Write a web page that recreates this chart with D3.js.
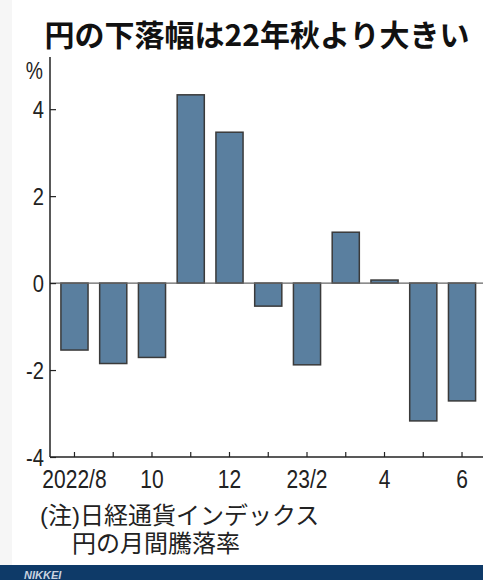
<!DOCTYPE html>
<html>
<head>
<meta charset="utf-8">
<script src="https://cdn.jsdelivr.net/npm/d3@7"></script>
<style>
  html, body { margin: 0; padding: 0; background: #fff; }
  svg { display: block; }
</style>
</head>
<body>
<script>
// Monthly change of the yen in the Nikkei currency index (%)
const months = ["2022/8", "9", "10", "11", "12", "23/1", "2", "3", "4", "5", "6"];
const changes = [-1.54, -1.85, -1.71, 4.33, 3.47, -0.53, -1.88, 1.17, 0.07, -3.17, -2.71];
const shownLabels = ["2022/8", "10", "12", "23/2", "4", "6"];
const yTicks = [-4, -2, 0, 2, 4];

const title = "円の下落幅は22年秋より大きい";
const noteLines = ["(注)日経通貨インデックス", "円の月間騰落率"];
const unitLabel = "%";
const brand = "NIKKEI";

const W = 483, H = 580;
const numFont = "'Liberation Sans', Arial, sans-serif";
const jpFont = "'Noto Sans CJK JP', 'Noto Sans', sans-serif";
const noteFont = "'Liberation Sans', 'Noto Sans CJK JP', sans-serif";
const narrow = 0.84; // horizontal squeeze for the condensed numerals

const svg = d3.select("body").append("svg")
  .attr("width", W).attr("height", H);

svg.append("rect").attr("width", W).attr("height", H).attr("fill", "#fff");
svg.append("rect").attr("x", 0).attr("y", 0).attr("width", 12).attr("height", 565).attr("fill", "#f6f6f6");

// Title
svg.append("text")
  .attr("x", 257).attr("y", 46)
  .attr("text-anchor", "middle")
  .attr("font-family", jpFont)
  .attr("font-weight", 700)
  .attr("font-size", 30)
  .attr("fill", "#111")
  .text(title);

// Scales
const y = d3.scaleLinear().domain([-4, 5.2]).range([457, 57]);
const x = d3.scaleBand().domain(months).range([55.1, 481.4]).paddingInner(0.3).paddingOuter(0.15);
const axisX = 50;

// Bars
svg.append("g").selectAll("rect")
  .data(months.map((m, i) => ({ m, v: changes[i] })))
  .join("rect")
  .attr("x", d => x(d.m))
  .attr("width", x.bandwidth())
  .attr("y", d => y(Math.max(0, d.v)))
  .attr("height", d => Math.abs(y(d.v) - y(0)))
  .attr("fill", "#5a7f9f")
  .attr("stroke", "#3a3a3a")
  .attr("stroke-width", 1.5);

// Zero line
svg.append("line")
  .attr("x1", axisX).attr("x2", W)
  .attr("y1", y(0)).attr("y2", y(0))
  .attr("stroke", "#666").attr("stroke-width", 1.3);

// Y axis: ticks pointing right, labels to the left
const yAxis = d3.axisRight(y).tickValues(yTicks).tickSize(6).tickFormat(d => d);
const yg = svg.append("g").attr("transform", `translate(${axisX},0)`).call(yAxis);
yg.select(".domain").remove();
yg.selectAll(".tick line").attr("stroke", "#222").attr("stroke-width", 1.2);
yg.selectAll(".tick text")
  .attr("x", null).attr("dy", "0.35em")
  .attr("transform", `translate(-6,0) scale(${narrow},1)`)
  .attr("text-anchor", "end")
  .attr("font-family", numFont).attr("font-size", 24).attr("fill", "#222");
svg.append("line")
  .attr("x1", axisX).attr("x2", axisX)
  .attr("y1", 57).attr("y2", y(-4))
  .attr("stroke", "#222").attr("stroke-width", 1.5);

svg.append("text")
  .attr("transform", `translate(43,79) scale(${narrow},1)`)
  .attr("text-anchor", "end")
  .attr("font-family", numFont).attr("font-size", 23).attr("fill", "#222")
  .text(unitLabel);

// X axis: ticks pointing up at every month
const xAxis = d3.axisTop(x).tickSize(5).tickFormat(() => "");
const xg = svg.append("g").attr("transform", `translate(0,${y(-4)})`).call(xAxis);
xg.select(".domain").remove();
xg.selectAll(".tick line").attr("stroke", "#222").attr("stroke-width", 1.2);
svg.append("line")
  .attr("x1", axisX).attr("x2", W)
  .attr("y1", y(-4)).attr("y2", y(-4))
  .attr("stroke", "#222").attr("stroke-width", 1.5);

const labelFor = (m, i) => (m === "2" && months[i - 1] === "23/1") ? "23/2" : m;
svg.append("g").selectAll("text")
  .data(months.map((m, i) => ({ m, label: labelFor(m, i) })).filter(d => shownLabels.includes(d.label)))
  .join("text")
  .attr("transform", d => `translate(${x(d.m) + x.bandwidth() / 2},488) scale(${narrow},1)`)
  .attr("text-anchor", "middle")
  .attr("font-family", numFont).attr("font-size", 25).attr("fill", "#222")
  .text(d => d.label);

// Note
svg.append("text")
  .attr("x", 40).attr("y", 524)
  .attr("font-family", noteFont).attr("font-size", 24).attr("fill", "#222")
  .text(noteLines[0]);
svg.append("text")
  .attr("x", 72).attr("y", 552)
  .attr("font-family", noteFont).attr("font-size", 24).attr("fill", "#222")
  .text(noteLines[1]);

// Footer band
svg.append("rect")
  .attr("x", 0).attr("y", 565).attr("width", W).attr("height", 15)
  .attr("fill", "#0e3a68");
svg.append("text")
  .attr("x", 24).attr("y", 579)
  .attr("font-family", "'Liberation Sans', Arial, sans-serif")
  .attr("font-style", "italic").attr("font-weight", 700)
  .attr("font-size", 11).attr("fill", "#c9d3e0")
  .text(brand);
</script>
</body>
</html>
